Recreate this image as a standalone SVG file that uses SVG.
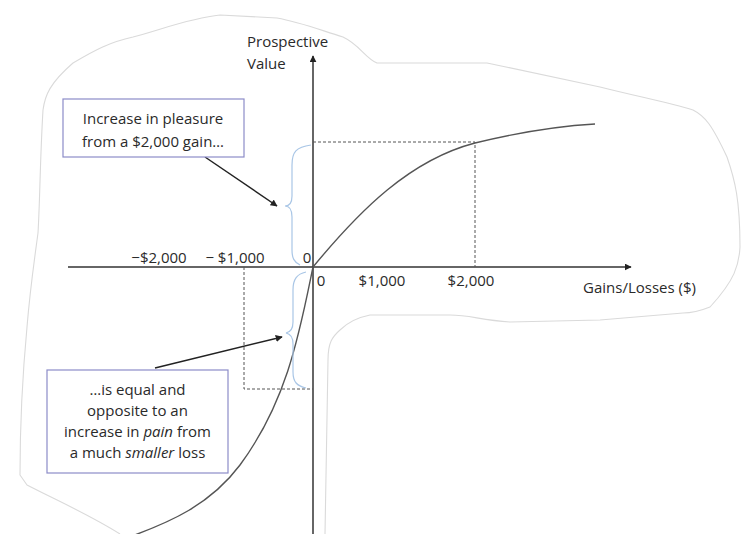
<svg xmlns="http://www.w3.org/2000/svg" width="741" height="534" viewBox="0 0 741 534">
<defs>
<marker id="ah" viewBox="0 0 10 10" refX="9" refY="5" markerWidth="7" markerHeight="7" markerUnits="userSpaceOnUse" orient="auto">
<path d="M0,0 L10,5 L0,10 z" fill="#222"/>
</marker>
<style>
.t{font-family:"Open Sans","Liberation Sans",sans-serif;font-size:15px;fill:#2a2a2a}
.c{text-anchor:middle}
.box{fill:#fff;stroke:#8c8cc8;stroke-width:1.2}
.dash{fill:none;stroke:#555;stroke-width:1;stroke-dasharray:3,2}
.brace{fill:none;stroke:#a9c6e6;stroke-width:1.2}
.outline{fill:none;stroke:#dadada;stroke-width:1.1;stroke-linejoin:round}
.axis{fill:none;stroke:#333;stroke-width:1.5}
.curve{fill:none;stroke:#555;stroke-width:1.4}
.arr{fill:none;stroke:#222;stroke-width:1.5}
</style>
</defs>
<rect width="741" height="534" fill="#fff"/>
<g id="outline">
<path class="outline" d="M120,534 C90,515 60,502 27,485 L20,475 C20,430 22,380 27,327 C30,290 33,270 38,233 C40,200 40,160 43,110 C45,95 50,83 73,63 C95,50 110,42 133,37 C160,30 190,18 220,15 L277,18 C300,22 320,30 343,37 C360,45 365,58 377,63 L487,63 C520,70 545,75 600,87 C640,97 670,103 693,110 C705,116 712,125 727,157 C735,180 740,200 740,247 C739,265 735,280 710,307 C700,311 690,313 683,313 L600,320 L510,322 C480,320 470,315 450,315 L370,315 C355,318 345,325 340,330 C332,337 328,343 328,360 L325,534"/>
</g>
<g id="connectors">
<line class="axis" x1="68" y1="267" x2="631" y2="267" marker-end="url(#ah)"/>
<line class="axis" x1="313" y1="534" x2="313" y2="56" marker-end="url(#ah)"/>
<path class="dash" d="M313,142 H475 V267"/>
<path class="dash" d="M244,267 V389 H313"/>
<path class="curve" d="M313,267 C360,210 410,160 475,143 C520,132 560,126 595,124"/>
<path class="curve" d="M313,267 C300,330 288,400 240,465 C210,505 170,522 132,536"/>
<path class="brace" d="M311,145 C296,147 292,152 292,165 L292,196 C292,203 290,206 285,206 C290,206 292,210 292,217 L292,250 C292,258 294,262 300,265"/>
<path class="brace" d="M306,272 C297,274 293,279 293,290 L293,322 C293,329 291,332 286,333 C291,334 293,337 293,344 L293,372 C293,382 297,386 306,388"/>
<line class="arr" x1="205" y1="157" x2="277" y2="206" marker-end="url(#ah)"/>
<line class="arr" x1="155" y1="368" x2="282" y2="337" marker-end="url(#ah)"/>
</g>
<g id="box1">
<rect class="box" x="63" y="99" width="181" height="58"/>
<text class="t c" x="153" y="124">Increase in pleasure</text>
<text class="t c" x="153" y="147">from a $2,000 gain…</text>
</g>
<g id="box2">
<rect class="box" x="47" y="370" width="181" height="103"/>
<text class="t c" x="137.5" y="395">…is equal and</text>
<text class="t c" x="137.5" y="416">opposite to an</text>
<text class="t c" x="137.5" y="437">increase in <tspan font-style="italic">pain</tspan> from</text>
<text class="t c" x="137.5" y="458">a much <tspan font-style="italic">smaller</tspan> loss</text>
</g>
<g id="labels">
<text class="t" x="247" y="47">Prospective</text>
<text class="t" x="247" y="69">Value</text>
<text class="t c" x="159" y="263">−$2,000</text>
<text class="t c" x="235" y="263">− $1,000</text>
<text class="t c" x="307" y="263">0</text>
<text class="t c" x="321" y="286">0</text>
<text class="t c" x="382" y="286">$1,000</text>
<text class="t c" x="471" y="286">$2,000</text>
<text class="t" x="583" y="293">Gains/Losses ($)</text>
</g>
</svg>
